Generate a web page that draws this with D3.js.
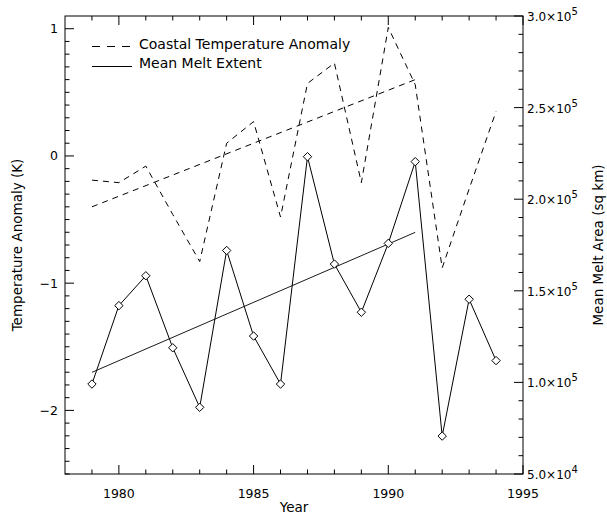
<!DOCTYPE html>
<html>
<head>
<meta charset="utf-8">
<script src="https://cdn.jsdelivr.net/npm/d3@7"></script>
<style>
  html, body { margin: 0; padding: 0; background: #fff; }
  svg { display: block; }
  text { font-family: "DejaVu Sans", sans-serif; fill: #000; }
</style>
</head>
<body>
<svg id="chart" width="607" height="515"></svg>
<script>
// ---- data ----
const years = [1979,1980,1981,1982,1983,1984,1985,1986,1987,1988,1989,1990,1991,1992,1993,1994];
const tempAnomaly = [-0.19,-0.21,-0.08,-0.46,-0.83,0.10,0.27,-0.48,0.57,0.73,-0.21,1.01,0.56,-0.88,-0.26,0.35];
const meltArea = [99.1e3,141.9e3,158.2e3,118.9e3,86.4e3,172.0e3,125.3e3,99.1e3,223.2e3,164.6e3,138.3e3,175.9e3,220.5e3,70.7e3,145.4e3,111.9e3];
const tempTrendYears = [1979, 1991];
const tempTrendValues = [-0.40, 0.60];
const meltTrendYears = [1979, 1991];
const meltTrendValues = [105.5e3, 181.9e3];
const xTicks = [1980, 1985, 1990, 1995];
const yLeftTicks = [-2, -1, 0, 1];
const yLeftTickLabels = ["\u22122", "\u22121", "0", "1"];
const yRightTicks = [5e4, 1e5, 1.5e5, 2e5, 2.5e5, 3e5];
const yRightMantissa = ["5.0", "1.0", "1.5", "2.0", "2.5", "3.0"];
const yRightExponent = ["4", "5", "5", "5", "5", "5"];
const legendLabels = ["Coastal Temperature Anomaly", "Mean Melt Extent"];
const xTitle = "Year";
const yLeftTitle = "Temperature Anomaly (K)";
const yRightTitle = "Mean Melt Area (sq km)";

// ---- layout ----
const L = 65, R = 523, T = 16, B = 474;
const svg = d3.select("#chart");

const x = d3.scaleLinear().domain([1978, 1995]).range([L, R]);
const yL = d3.scaleLinear().domain([-2.5, 1.1]).range([B, T]);
const yR = d3.scaleLinear().domain([5e4, 3e5]).range([B, T]);

const majLen = 9, minLen = 4.5;

// frame
const g = svg.append("g").attr("stroke", "#000").attr("stroke-width", 1).attr("fill", "none");
g.append("rect").attr("x", L).attr("y", T).attr("width", R - L).attr("height", B - T);

// x ticks (bottom and top), pointing inward
const xMinor = d3.range(1979, 1995, 1).filter(v => xTicks.indexOf(v) < 0);
xMinor.forEach(v => {
  g.append("line").attr("x1", x(v)).attr("x2", x(v)).attr("y1", B).attr("y2", B - minLen);
  g.append("line").attr("x1", x(v)).attr("x2", x(v)).attr("y1", T).attr("y2", T + minLen);
});
xTicks.forEach(v => {
  g.append("line").attr("x1", x(v)).attr("x2", x(v)).attr("y1", B).attr("y2", B - majLen);
  g.append("line").attr("x1", x(v)).attr("x2", x(v)).attr("y1", T).attr("y2", T + majLen);
});
// left ticks
d3.range(-25, 11, 1).map(v => v / 10).forEach(v => {
  const major = yLeftTicks.indexOf(v) >= 0;
  g.append("line").attr("x1", L).attr("x2", L + (major ? majLen : minLen)).attr("y1", yL(v)).attr("y2", yL(v));
});
// right ticks
d3.range(5e4, 3e5 + 1, 1e4).forEach(v => {
  const major = yRightTicks.indexOf(v) >= 0;
  g.append("line").attr("x1", R).attr("x2", R - (major ? majLen : minLen)).attr("y1", yR(v)).attr("y2", yR(v));
});

// tick labels
const fsTick = 12.5;
xTicks.forEach(v => {
  svg.append("text").attr("x", x(v)).attr("y", 498).attr("text-anchor", "middle")
    .attr("font-size", fsTick).text(v);
});
yLeftTicks.forEach((v, i) => {
  svg.append("text").attr("x", 58).attr("y", yL(v) + 4.5).attr("text-anchor", "end")
    .attr("font-size", fsTick).text(yLeftTickLabels[i]);
});
yRightTicks.forEach((v, i) => {
  const t = svg.append("text").attr("x", 527).attr("y", yR(v) + 5).attr("font-size", 12);
  t.append("tspan").text(yRightMantissa[i] + "\u00d710");
  t.append("tspan").attr("dy", -6).attr("font-size", 10).text(yRightExponent[i]);
});

// axis titles
svg.append("text").attr("x", (L + R) / 2).attr("y", 512).attr("text-anchor", "middle")
  .attr("font-size", 13.5).text(xTitle);
svg.append("text").attr("transform", `translate(22,${(T + B) / 2}) rotate(-90)`)
  .attr("text-anchor", "middle").attr("font-size", 13.5).text(yLeftTitle);
svg.append("text").attr("transform", `translate(603,${(T + B) / 2}) rotate(-90)`)
  .attr("text-anchor", "middle").attr("font-size", 13.5).text(yRightTitle);

// lines
const dash = "6,5";
const tempLine = d3.line().x((d, i) => x(years[i])).y(d => yL(d));
svg.append("path").datum(tempAnomaly).attr("d", tempLine)
  .attr("fill", "none").attr("stroke", "#000").attr("stroke-width", 1).attr("stroke-dasharray", dash);

const tempTrendLine = d3.line().x((d, i) => x(tempTrendYears[i])).y(d => yL(d));
svg.append("path").datum(tempTrendValues).attr("d", tempTrendLine)
  .attr("fill", "none").attr("stroke", "#000").attr("stroke-width", 1).attr("stroke-dasharray", dash);

const meltLine = d3.line().x((d, i) => x(years[i])).y(d => yR(d));
svg.append("path").datum(meltArea).attr("d", meltLine)
  .attr("fill", "none").attr("stroke", "#000").attr("stroke-width", 1);

const meltTrendLine = d3.line().x((d, i) => x(meltTrendYears[i])).y(d => yR(d));
svg.append("path").datum(meltTrendValues).attr("d", meltTrendLine)
  .attr("fill", "none").attr("stroke", "#000").attr("stroke-width", 0.9);

// diamonds
const ds = 4.2;
svg.append("g").selectAll("path").data(meltArea).join("path")
  .attr("d", (d, i) => {
    const cx = x(years[i]), cy = yR(d);
    return `M${cx},${cy - ds}L${cx + ds},${cy}L${cx},${cy + ds}L${cx - ds},${cy}Z`;
  })
  .attr("fill", "#fff").attr("stroke", "#000").attr("stroke-width", 1);

// legend
const lg = svg.append("g");
lg.append("line").attr("x1", 92).attr("x2", 132).attr("y1", 46.5).attr("y2", 46.5)
  .attr("stroke", "#000").attr("stroke-dasharray", "8,7");
lg.append("text").attr("x", 139).attr("y", 49).attr("font-size", 14).text(legendLabels[0]);
lg.append("line").attr("x1", 92).attr("x2", 132).attr("y1", 66.5).attr("y2", 66.5)
  .attr("stroke", "#000");
lg.append("text").attr("x", 139).attr("y", 67.5).attr("font-size", 14).text(legendLabels[1]);
</script>
</body>
</html>
